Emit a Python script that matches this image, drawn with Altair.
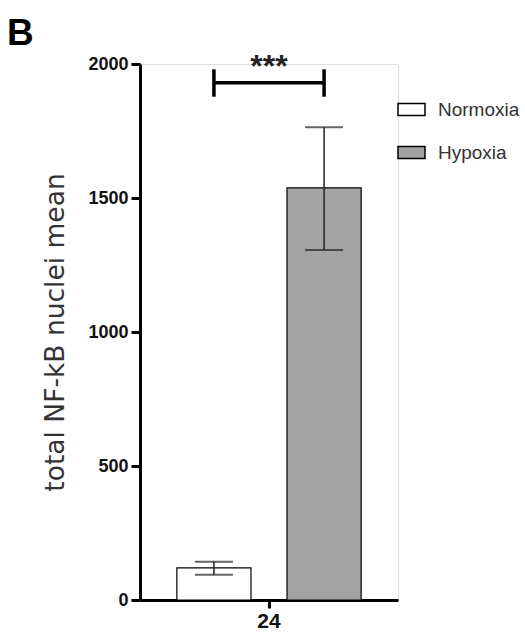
import altair as alt
import pandas as pd

# ---- data ----
conditions = ["Normoxia", "Hypoxia"]
time_point = ["24", "24"]
means = [120, 1538]
err_low = [94, 1306]
err_high = [143, 1764]

sig_label = ["***"]
sig_y = [1930]          # bracket height (data units)
sig_cap_low = [1878]
sig_cap_high = [1980]
sig_text_y = [2010]

y_ticks = [0, 500, 1000, 1500, 2000]
fill_colors = ["white", "#a3a3a3"]

df = pd.DataFrame({
    "time": time_point,
    "condition": conditions,
    "mean": means,
    "lo": err_low,
    "hi": err_high,
    "sig": [sig_y[0]] * 2,
    "cap_lo": [sig_cap_low[0]] * 2,
    "cap_hi": [sig_cap_high[0]] * 2,
})
sig_df = pd.DataFrame({"time": [time_point[0]], "label": sig_label, "y": sig_text_y})

FONT = "Liberation Sans"

x_enc = alt.X("time:N",
              scale=alt.Scale(paddingInner=0, paddingOuter=0.2),
              axis=alt.Axis(title=None, labelAngle=0, labelFont=FONT, labelFontWeight="bold",
                            labelFontSize=21, labelColor="#111", tickSize=8, tickWidth=3,
                            tickColor="black", domainColor="black", domainWidth=3,
                            labelPadding=2))
xoff = alt.XOffset("condition:N", sort=conditions,
                   scale=alt.Scale(paddingInner=0.327, paddingOuter=0))
y_scale = alt.Scale(domain=[0, 2000], nice=False, zero=True)
y_axis = alt.Axis(values=y_ticks, format="d", title="total NF-kB nuclei mean", grid=False,
                  labelFont=FONT, labelFontWeight="bold", labelFontSize=18, labelColor="#111",
                  tickSize=9, tickWidth=3, tickColor="black", domainColor="black",
                  domainWidth=3, labelPadding=3,
                  titleFont="DejaVu Sans", titleFontSize=26.5, titleFontWeight="normal",
                  titleColor="#333", titleX=-85, titleY=268, titleBaseline="middle",
                  titleAlign="center")

base = alt.Chart(df)

bars = base.mark_bar(stroke="black", strokeWidth=1.2).encode(
    x=x_enc,
    xOffset=xoff,
    y=alt.Y("mean:Q", scale=y_scale, axis=y_axis),
    fill=alt.Fill("condition:N", sort=conditions,
                  scale=alt.Scale(domain=conditions, range=fill_colors),
                  legend=alt.Legend(title=None, orient="none", legendX=257, legendY=31,
                                    symbolType="M-1,-0.44H1V0.44H-1Z", symbolSize=729,
                                    symbolStrokeColor="black", symbolStrokeWidth=1.5,
                                    labelFont=FONT, labelFontSize=19, labelColor="#333",
                                    labelOffset=12, rowPadding=18, padding=0)),
)

err_line = base.mark_rule(color="#222", strokeWidth=1.5).encode(
    x="time:N", xOffset=xoff,
    y=alt.Y("lo:Q", scale=y_scale), y2="hi:Q",
)
cap_lo = base.mark_tick(color="#222", size=38, thickness=2, orient="horizontal").encode(
    x="time:N", xOffset=xoff, y=alt.Y("lo:Q", scale=y_scale),
)
cap_hi = base.mark_tick(color="#222", size=38, thickness=2, orient="horizontal").encode(
    x="time:N", xOffset=xoff, y=alt.Y("hi:Q", scale=y_scale),
)

bracket = base.mark_line(color="black", strokeWidth=3.5).encode(
    x="time:N", xOffset=xoff, y=alt.Y("sig:Q", scale=y_scale),
)
bracket_ends = base.mark_rule(color="black", strokeWidth=3.5).encode(
    x="time:N", xOffset=xoff, y=alt.Y("cap_lo:Q", scale=y_scale), y2="cap_hi:Q",
)
stars = alt.Chart(sig_df).mark_text(font=FONT, fontSize=32, fontWeight="bold",
                                    baseline="middle", dy=6, color="#222").encode(
    x="time:N", y=alt.Y("y:Q", scale=y_scale), text="label:N",
)

panel = alt.Chart(pd.DataFrame({"t": ["B"]})).mark_text(
    font=FONT, fontSize=37, fontWeight="bold", align="left", baseline="alphabetic",
    color="black").encode(x=alt.value(-133), y=alt.value(-19), text="t:N")

chart = alt.layer(bars, err_line, cap_lo, cap_hi, bracket, bracket_ends, stars, panel).properties(
    width=258, height=536,
    autosize=alt.AutoSizeParams(type="none"),
    padding={"left": 140, "top": 64, "right": 127, "bottom": 42},
).configure_view(stroke=None).configure(background="white")

chart.save("out.html", embed_options={"renderer": "svg", "actions": False})
